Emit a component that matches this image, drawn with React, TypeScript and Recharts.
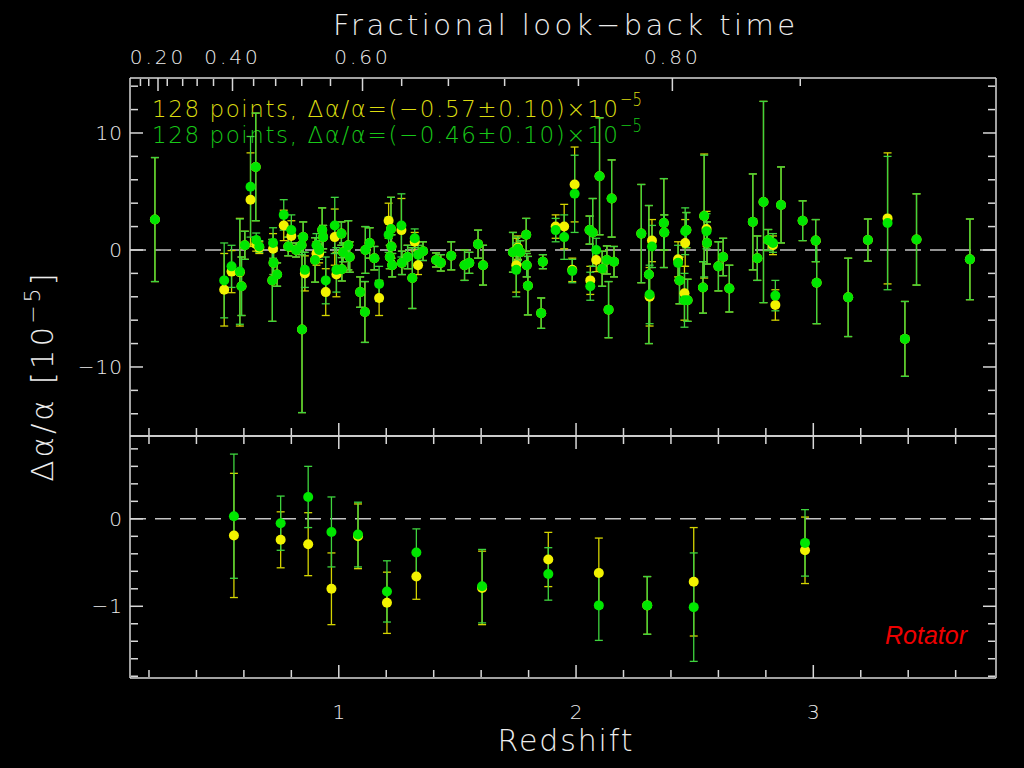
import React from 'react';
import { ScatterChart, Scatter, XAxis, YAxis, ErrorBar, ReferenceLine } from 'recharts';

// ---------- Top panel: individual absorbers ----------
const zTop = [
  0.225, 0.517, 0.548, 0.583, 0.590, 0.604, 0.628, 0.650, 0.652, 0.665,
  0.723, 0.725, 0.720, 0.740, 0.768, 0.787, 0.800, 0.820, 0.845, 0.850,
  0.843, 0.857, 0.900, 0.906, 0.917, 0.930, 0.934, 0.945, 0.983, 0.990,
  1.011, 1.013, 1.018, 1.040, 1.046, 1.090, 1.110, 1.112, 1.130, 1.150,
  1.170, 1.210, 1.220, 1.222, 1.215, 1.225, 1.264, 1.266, 1.290, 1.310,
  1.320, 1.334, 1.355, 1.410, 1.430, 1.474, 1.530, 1.550, 1.587, 1.608,
  1.734, 1.748, 1.755, 1.765, 1.790, 1.792, 1.797, 1.853, 1.860, 1.914,
  1.950, 1.984, 1.994, 2.057, 2.060, 2.070, 2.085, 2.099, 2.110, 2.130,
  2.137, 2.150, 2.160, 2.275, 2.307, 2.310, 2.320, 2.370, 2.372, 2.430,
  2.436, 2.457, 2.460, 2.465, 2.470, 2.540, 2.550, 2.552, 2.535, 2.600,
  2.620, 2.646, 2.745, 2.764, 2.790, 2.810, 2.830, 2.840, 2.864, 2.955,
  3.010, 3.014, 3.147, 3.230, 3.313, 3.386, 3.435, 3.660,
];
const greenTop = [
  2.6, -2.6, -1.4, -1.85, -3.1, 0.4, 5.4, 7.1, 0.85, 0.3,
  0.6, -1.1, -2.6, -2.1, 3.0, 0.3, 1.7, 0.0, -6.8, 1.1,
  0.4, -1.7, -0.85, 0.4, 0.0, 1.7, 1.1, -2.6, 2.1, -1.7,
  1.4, -1.65, -0.2, 0.4, -0.6, -3.6, -5.3, 0.0, 0.6, -0.7,
  -2.9, 1.3, 1.8, 0.3, -0.6, -1.3, 2.1, -1.1, -0.6, -2.4,
  1.0, -0.4, -0.1, -0.85, -1.1, -0.5, -1.3, -1.1, 0.5, -1.3,
  -0.2, -1.7, 0.1, -0.2, 1.3, -1.3, -3.05, -5.4, -1.0, 1.7,
  1.1, -1.8, 4.8, 1.7, -3.1, 1.5, 0.0, 6.3, -1.6, -0.85,
  -5.1, 4.4, -1.0, 1.4, -2.1, -3.8, 0.3, 2.3, 1.5, -1.1,
  -2.6, -4.3, 1.6, 1.7, -4.3, 2.9, 1.6, 0.6, -3.2, -1.4,
  -0.6, -3.3, 2.4, -0.7, 4.1, 0.85, 0.6, -3.9, 3.85, 2.5,
  0.8, -2.8, -4.05, 0.85, 2.3, -7.6, 0.9, -0.8,
];
const greenTopErr = [
  5.3, 3.2, 1.8, 4.5, 2.5, 1.2, 4.3, 4.6, 0.6, 0.5,
  1.3, 1.0, 3.5, 1.0, 1.3, 0.8, 1.3, 0.6, 7.1, 1.3,
  0.8, 1.5, 1.9, 1.0, 0.8, 1.9, 1.0, 2.0, 2.4, 1.9,
  1.0, 1.0, 0.8, 2.1, 1.3, 1.3, 2.6, 2.0, 1.3, 1.0,
  1.5, 1.5, 2.7, 1.0, 1.0, 1.0, 2.7, 1.0, 1.0, 2.6,
  0.8, 0.8, 0.8, 0.6, 0.7, 1.2, 1.3, 0.9, 1.2, 1.7,
  1.7, 2.3, 1.0, 1.0, 1.4, 1.0, 2.5, 1.3, 0.6, 1.0,
  1.9, 1.0, 3.3, 1.2, 1.2, 2.9, 1.0, 5.0, 1.5, 1.2,
  2.4, 3.3, 1.3, 4.2, 5.9, 2.5, 1.8, 3.8, 1.5, 1.5,
  2.0, 2.3, 2.0, 1.5, 1.8, 5.2, 1.5, 1.8, 2.2, 2.1,
  1.6, 2.0, 4.1, 1.9, 8.6, 0.9, 0.8, 1.3, 3.25, 1.7,
  1.8, 3.5, 3.35, 1.8, 5.7, 3.2, 3.9, 3.45,
];
const yellowTop = [
  2.6, -3.4, -1.85, -1.9, -3.1, 0.4, 4.3, 7.1, 0.5, 0.2,
  0.1, -1.1, -2.6, -2.1, 2.1, 0.3, 1.2, 0.0, -6.8, 1.1,
  0.4, -2.0, -0.85, -0.3, -0.3, 1.7, 1.1, -3.6, 1.1, -2.1,
  1.4, -1.65, -0.2, 0.4, -0.6, -3.6, -5.3, 0.0, 0.6, -0.7,
  -4.1, 2.5, 1.8, 0.3, -0.6, -1.3, 1.7, -1.1, -0.6, -2.4,
  0.7, -1.3, -0.1, -0.85, -1.1, -0.5, -1.3, -1.1, 0.5, -1.3,
  -0.2, -1.3, 0.2, -0.2, 1.3, -1.3, -3.05, -5.4, -1.0, 2.0,
  2.0, -1.7, 5.6, 1.7, -2.6, 1.5, -0.85, 6.3, -1.6, -0.85,
  -5.1, 4.4, -1.0, 1.4, -2.1, -4.0, 0.8, 2.3, 1.5, -0.8,
  -2.6, -3.7, 0.6, 1.7, -4.3, 2.9, 1.8, 0.6, -3.2, -1.4,
  -0.6, -3.3, 2.4, -0.7, 4.1, 0.85, 0.4, -4.7, 3.85, 2.5,
  0.8, -2.8, -4.05, 0.85, 2.7, -7.6, 0.9, -0.8,
];
const yellowTopErr = [
  5.3, 3.1, 1.8, 4.6, 2.5, 1.2, 4.0, 4.6, 0.6, 0.5,
  1.3, 1.0, 3.5, 1.0, 1.3, 0.8, 1.3, 0.6, 7.1, 1.3,
  0.8, 1.5, 1.9, 1.0, 0.8, 1.9, 1.0, 2.0, 2.4, 1.9,
  1.0, 1.0, 0.8, 2.1, 1.3, 1.3, 2.6, 2.0, 1.3, 1.0,
  1.5, 1.5, 2.7, 1.0, 1.0, 1.0, 2.7, 1.0, 1.0, 2.6,
  0.8, 0.8, 0.8, 0.6, 0.7, 1.2, 1.3, 0.9, 1.2, 1.7,
  1.7, 2.3, 1.0, 1.0, 1.4, 1.0, 2.5, 1.3, 0.6, 1.0,
  1.9, 1.0, 3.2, 1.2, 1.2, 2.9, 1.0, 5.0, 1.5, 1.2,
  2.4, 3.3, 1.3, 4.2, 5.9, 2.5, 1.8, 3.8, 1.5, 1.5,
  2.0, 2.3, 2.0, 1.5, 1.8, 5.3, 1.5, 1.8, 2.2, 2.1,
  1.6, 2.0, 4.1, 1.9, 8.6, 0.9, 0.8, 1.3, 3.25, 1.7,
  1.8, 3.5, 3.35, 1.8, 5.6, 3.2, 3.9, 3.45,
];

// ---------- Bottom panel: binned values ----------
const zBin = [0.558, 0.755, 0.871, 0.969, 1.081, 1.203, 1.327, 1.604, 1.883, 2.096, 2.300, 2.496, 2.965];
const greenBin = [0.03, -0.05, 0.25, -0.15, -0.18, -0.83, -0.385, -0.77, -0.63, -0.99, -0.99, -1.01, -0.275];
const greenBinErr = [0.71, 0.31, 0.35, 0.40, 0.37, 0.35, 0.27, 0.42, 0.30, 0.40, 0.33, 0.62, 0.38];
const yellowBin = [-0.19, -0.24, -0.29, -0.80, -0.20, -0.96, -0.66, -0.79, -0.465, -0.62, -0.99, -0.72, -0.36];
const yellowBinErr = [0.71, 0.32, 0.36, 0.41, 0.37, 0.35, 0.26, 0.42, 0.31, 0.40, 0.33, 0.62, 0.38];

// ---------- Axes ----------
const redshiftMajor = [1, 2, 3];
const redshiftMinor = [0.2, 0.4, 0.6, 0.8, 1.2, 1.4, 1.6, 1.8, 2.2, 2.4, 2.6, 2.8, 3.2, 3.4, 3.6];
const lookbackLabels = ['0.20', '0.40', '0.60', '0.80'];
const lookbackMajorZ = [0.238, 0.552, 1.1, 2.406];
const lookbackMinorZ = [0.164, 0.199, 0.277, 0.342, 0.403, 0.472, 0.641, 0.734, 0.844, 0.965, 1.265, 1.462, 1.699, 2.01, 2.945];
const topYMajor = [-10, 0, 10];
const topYMinor = [-14, -12, -8, -6, -4, -2, 2, 4, 6, 8, 12, 14];
const botYMajor = [-1, 0];
const botYMinor = [-1.8, -1.6, -1.4, -1.2, -0.8, -0.6, -0.4, -0.2, 0.2, 0.4, 0.6, 0.8];

const X_DOMAIN: [number, number] = [0.12, 3.77];
const TOP_Y_DOMAIN: [number, number] = [-15.9, 14.7];
const BOT_Y_DOMAIN: [number, number] = [-1.82, 0.947];

const FONT = "'DejaVu Sans', sans-serif";
const FRAME = '#d8d8d8';
const TEXT = '#ececec';
const GREEN = '#00e600';
const GREEN_BAR = '#3ed43e';
const YELLOW = '#f2f200';
const YELLOW_BAR = '#d4d400';
const ZERO = '#c4c4c4';

const build = (z: number[], v: number[], e: number[]) => z.map((zz, i) => ({ z: zz, v: v[i], e: e[i] }));
const yellowTopData = build(zTop, yellowTop, yellowTopErr);
const greenTopData = build(zTop, greenTop, greenTopErr);
const yellowBinData = build(zBin, yellowBin, yellowBinErr);
const greenBinData = build(zBin, greenBin, greenBinErr);

const fmtNum = (v: number) => (v < 0 ? `\u2212${Math.abs(v)}` : `${v}`);
const fmtLookback = (v: number) => {
  const i = lookbackMajorZ.findIndex((t) => Math.abs(t - v) < 1e-6);
  return i >= 0 ? lookbackLabels[i] : '';
};

const dot = (fill: string) => (p: any) => <circle cx={p.cx} cy={p.cy} r={5} fill={fill} />;
const noLabel = () => <g />;

const tickText = { fill: TEXT, fontSize: 20, fontFamily: FONT, fontWeight: 200 };
const lineStyle = { stroke: FRAME, strokeWidth: 1.5 };

function tickAxesX(prefix: string, orientation: 'top' | 'bottom', major: number[], minor: number[], showLine: boolean) {
  return [
    <XAxis key={prefix + 'M'} xAxisId={prefix + 'M'} orientation={orientation} mirror height={1} type="number" dataKey="z"
      domain={X_DOMAIN} allowDataOverflow ticks={major} interval={0} tick={noLabel} tickSize={13}
      axisLine={showLine ? lineStyle : false} tickLine={lineStyle} />,
    <XAxis key={prefix + 'm'} xAxisId={prefix + 'm'} orientation={orientation} mirror height={1} type="number" dataKey="z"
      domain={X_DOMAIN} allowDataOverflow ticks={minor} interval={0} tick={noLabel} tickSize={7}
      axisLine={false} tickLine={lineStyle} />,
  ];
}

function tickAxesY(prefix: string, orientation: 'left' | 'right', domain: [number, number], major: number[], minor: number[], showLine: boolean) {
  return [
    <YAxis key={prefix + 'M'} yAxisId={prefix + 'M'} orientation={orientation} mirror width={1} type="number" dataKey="v"
      domain={domain} allowDataOverflow ticks={major} interval={0} tick={noLabel} tickSize={13}
      axisLine={showLine ? lineStyle : false} tickLine={lineStyle} />,
    <YAxis key={prefix + 'm'} yAxisId={prefix + 'm'} orientation={orientation} mirror width={1} type="number" dataKey="v"
      domain={domain} allowDataOverflow ticks={minor} interval={0} tick={noLabel} tickSize={7}
      axisLine={false} tickLine={lineStyle} />,
  ];
}

function TopPanel() {
  return (
    <ScatterChart width={1024} height={768} margin={{ top: 38, right: 28, bottom: 332, left: 70 }}>
      <XAxis xAxisId="lt" orientation="top" type="number" dataKey="z" domain={X_DOMAIN} allowDataOverflow
        ticks={lookbackMajorZ} interval={0} tickFormatter={fmtLookback} tickLine={false} tickSize={0} tickMargin={14}
        height={40} axisLine={lineStyle} tick={{ ...tickText, letterSpacing: 3 }} />
      {tickAxesX('ltt', 'top', lookbackMajorZ, lookbackMinorZ, false)}
      {tickAxesX('tzb', 'bottom', redshiftMajor, redshiftMinor, true)}
      <YAxis yAxisId="L" orientation="left" width={60} type="number" dataKey="v" domain={TOP_Y_DOMAIN} allowDataOverflow
        ticks={topYMajor} interval={0} tickFormatter={fmtNum} tickLine={false} tickSize={0} tickMargin={7}
        axisLine={lineStyle} tick={{ ...tickText, letterSpacing: 1 }} />
      {tickAxesY('tl', 'left', TOP_Y_DOMAIN, topYMajor, topYMinor, false)}
      {tickAxesY('tr', 'right', TOP_Y_DOMAIN, topYMajor, topYMinor, true)}
      <ReferenceLine xAxisId="lt" yAxisId="L" y={0} stroke={ZERO} strokeWidth={1.5} strokeDasharray="16 9" />
      <Scatter xAxisId="lt" yAxisId="L" data={yellowTopData} dataKey="v" isAnimationActive={false} shape={dot(YELLOW)}>
        <ErrorBar dataKey="e" direction="y" width={4} stroke={YELLOW_BAR} strokeWidth={1.3} />
      </Scatter>
      <Scatter xAxisId="lt" yAxisId="L" data={greenTopData} dataKey="v" isAnimationActive={false} shape={dot(GREEN)}>
        <ErrorBar dataKey="e" direction="y" width={4} stroke={GREEN_BAR} strokeWidth={1.3} />
      </Scatter>
    </ScatterChart>
  );
}

function BottomPanel() {
  return (
    <ScatterChart width={1024} height={768} margin={{ top: 436, right: 28, bottom: 30, left: 70 }}>
      <XAxis xAxisId="zb" orientation="bottom" type="number" dataKey="z" domain={X_DOMAIN} allowDataOverflow
        ticks={redshiftMajor} interval={0} tickLine={false} tickSize={0} tickMargin={27} height={60}
        axisLine={lineStyle} tick={tickText} />
      {tickAxesX('bzb', 'bottom', redshiftMajor, redshiftMinor, false)}
      {tickAxesX('bzt', 'top', redshiftMajor, redshiftMinor, true)}
      <YAxis yAxisId="L" orientation="left" width={60} type="number" dataKey="v" domain={BOT_Y_DOMAIN} allowDataOverflow
        ticks={botYMajor} interval={0} tickFormatter={fmtNum} tickLine={false} tickSize={0} tickMargin={7}
        axisLine={lineStyle} tick={{ ...tickText, letterSpacing: 1 }} />
      {tickAxesY('bl', 'left', BOT_Y_DOMAIN, botYMajor, botYMinor, false)}
      {tickAxesY('br', 'right', BOT_Y_DOMAIN, botYMajor, botYMinor, true)}
      <ReferenceLine xAxisId="zb" yAxisId="L" y={0} stroke={ZERO} strokeWidth={1.5} strokeDasharray="16 9" />
      <Scatter xAxisId="zb" yAxisId="L" data={yellowBinData} dataKey="v" isAnimationActive={false} shape={dot(YELLOW)}>
        <ErrorBar dataKey="e" direction="y" width={4} stroke={YELLOW_BAR} strokeWidth={1.3} />
      </Scatter>
      <Scatter xAxisId="zb" yAxisId="L" data={greenBinData} dataKey="v" isAnimationActive={false} shape={dot(GREEN)}>
        <ErrorBar dataKey="e" direction="y" width={4} stroke={GREEN_BAR} strokeWidth={1.3} />
      </Scatter>
    </ScatterChart>
  );
}

function Texts() {
  const t = { fontFamily: FONT, fontWeight: 200 } as const;
  return (
    <svg width={1024} height={768} style={{ position: 'absolute', left: 0, top: 0 }}>
      <text x={564} y={35} textAnchor="middle" fill={TEXT} fontSize={29} textLength={462} lengthAdjust="spacing" {...t}>
        Fractional look{'\u2212'}back time
      </text>
      <text x={152} y={117} fill="#dcdc10" fontSize={23} textLength={466} lengthAdjust="spacing" {...t}>
        128 points, Δα/α=(−0.57±0.10)×10
      </text>
      <text x={620} y={106} fill="#dcdc10" fontSize={20} textLength={22} lengthAdjust="spacingAndGlyphs" {...t}>−5</text>
      <text x={152} y={143} fill="#18c818" fontSize={23} textLength={466} lengthAdjust="spacing" {...t}>
        128 points, Δα/α=(−0.46±0.10)×10
      </text>
      <text x={620} y={132} fill="#18c818" fontSize={20} textLength={22} lengthAdjust="spacingAndGlyphs" {...t}>−5</text>
      <text transform="translate(53,376) rotate(-90)" textAnchor="middle" fill={TEXT} fontSize={31} letterSpacing={3} {...t}>
        <tspan>Δα/α [10</tspan>
        <tspan dy={-13} fontSize={22}>−5</tspan>
        <tspan dy={13}>]</tspan>
      </text>
      <text x={565} y={751} textAnchor="middle" fill={TEXT} fontSize={30} textLength={135} lengthAdjust="spacing" {...t}>
        Redshift
      </text>
      <text x={967} y={644} textAnchor="end" fill="#ee0000" fontSize={25} fontStyle="italic" fontFamily="'Liberation Sans', Arial, sans-serif">
        Rotator
      </text>
    </svg>
  );
}

export default function App() {
  return (
    <div style={{ position: 'absolute', left: 0, top: 0, width: 1024, height: 768, background: '#000', overflow: 'hidden' }}>
      <Texts />
      <div style={{ position: 'absolute', left: 0, top: 0 }}>
        <TopPanel />
      </div>
      <div style={{ position: 'absolute', left: 0, top: 0 }}>
        <BottomPanel />
      </div>
    </div>
  );
}
